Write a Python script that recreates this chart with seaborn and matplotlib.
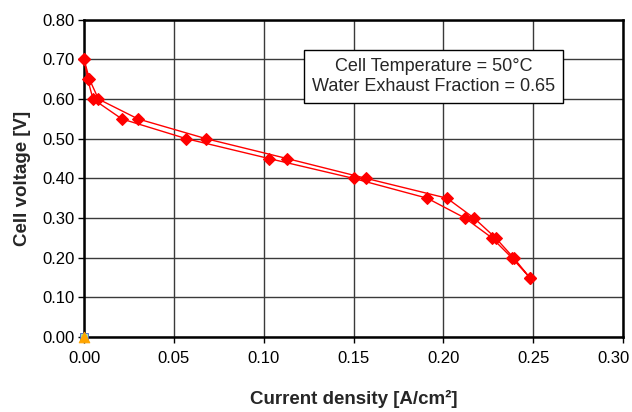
import matplotlib
matplotlib.use("Agg")
import matplotlib.pyplot as plt
import matplotlib.transforms as mtransforms
import seaborn as sns
from pandas import DataFrame

# polarisation curve, measured down then back up (hysteresis loop)
voltage = [0.70, 0.65, 0.60, 0.55, 0.50, 0.45, 0.40, 0.35, 0.30, 0.25, 0.20, 0.15]
current_down = [0.000, 0.002, 0.005, 0.021, 0.057, 0.103, 0.150, 0.191, 0.212, 0.227, 0.238, 0.248]
current_up = [0.000, 0.003, 0.008, 0.030, 0.068, 0.113, 0.157, 0.202, 0.217, 0.229, 0.239, 0.248]

# the stray reference series sitting at the origin
origin_x = [0.0]
origin_y = [0.0]

x_ticks = [0.00, 0.05, 0.10, 0.15, 0.20, 0.25, 0.30]
y_ticks = [0.00, 0.10, 0.20, 0.30, 0.40, 0.50, 0.60, 0.70, 0.80]
note = "Cell Temperature = 50°C\nWater Exhaust Fraction = 0.65"

sns.set_style("white")
plt.rcParams['font.family'] = ['Liberation Sans', 'DejaVu Sans']

loop = DataFrame({
    "current": current_down + current_up[::-1],
    "voltage": voltage + voltage[::-1],
})

fig = plt.figure(figsize=(6.32, 4.12), dpi=100)
ax = fig.add_axes([0.133, 0.182, 0.853, 0.770])

sns.lineplot(data=loop, x="current", y="voltage", sort=False, estimator=None,
             color="#ff0000", linewidth=1.0, marker="D", markersize=6.5,
             markeredgecolor="#ff0000", ax=ax, clip_on=False, zorder=3)
sns.scatterplot(x=origin_x, y=origin_y, marker="s", s=30, color="#9de09d",
                edgecolor="#4060d0", linewidth=0.6, ax=ax, clip_on=False, zorder=4)
sns.scatterplot(x=origin_x, y=origin_y, marker="^", s=60, color="#ffa500",
                edgecolor="#ffa500", ax=ax, clip_on=False, zorder=5)

ax.set_xlim(0, 0.30)
ax.set_ylim(0, 0.80)
ax.set_xticks(x_ticks)
ax.set_yticks(y_ticks)
ax.set_xticklabels([f"{t:.2f}" for t in x_ticks])
ax.set_yticklabels([f"{t:.2f}" for t in y_ticks])
ax.grid(True, color="#3a3a3a", linewidth=1.0)
ax.set_axisbelow(True)
for side in ["left", "bottom", "right", "top"]:
    ax.spines[side].set_visible(True)
    ax.spines[side].set_color("black")
    ax.spines[side].set_linewidth(1.8)
ax.tick_params(axis="both", which="major", direction="out", length=4, width=1,
               color="black", labelsize=12, labelcolor="black", pad=3)
ax.tick_params(axis="x", pad=6)
ax.tick_params(left=True, bottom=True)

# last x label is pulled left so it stays inside the picture
last = ax.get_xticklabels()[-1]
last.set_transform(last.get_transform() +
                   mtransforms.ScaledTranslation(-10 / 100, 0, fig.dpi_scale_trans))

ax.set_xlabel("Current density [A/cm²]", fontsize=13.5, fontweight="bold", labelpad=17)
ax.set_ylabel("Cell voltage [V]", fontsize=13.5, fontweight="bold", labelpad=8)

ax.text(0.1945, 0.657, note, ha="center", va="center", fontsize=13,
        linespacing=1.25, transform=ax.transData, zorder=6,
        bbox=dict(boxstyle="square,pad=0.45", facecolor="white",
                  edgecolor="black", linewidth=1.0))

fig.savefig("out.png", dpi=100, facecolor="white")
